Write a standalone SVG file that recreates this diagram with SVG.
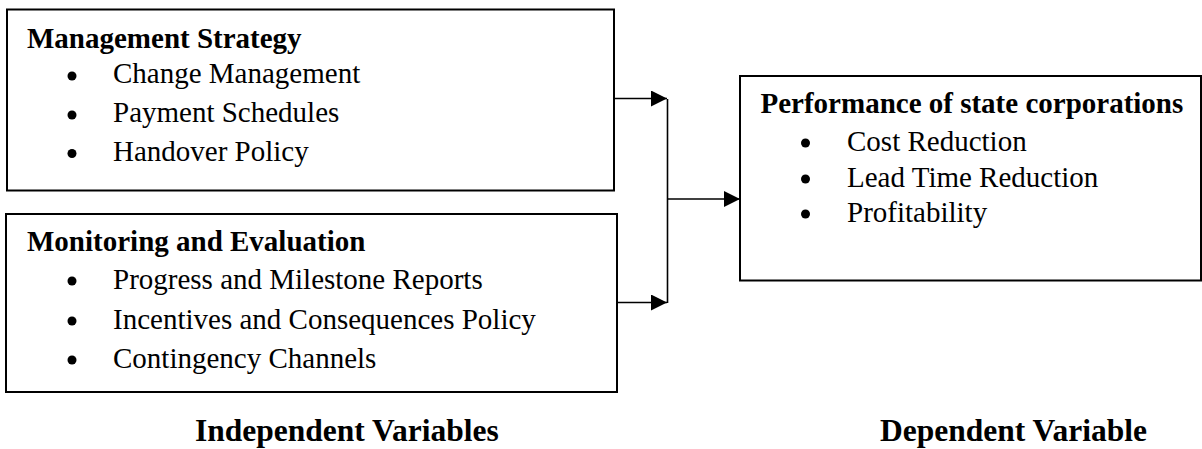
<svg xmlns="http://www.w3.org/2000/svg" width="1202" height="449" viewBox="0 0 1202 449">
<style>
.box{fill:#fff;stroke:#000;stroke-width:2}
.h{font-family:"Liberation Serif","Times New Roman",serif;font-weight:bold;font-size:29px;fill:#000}
.t{font-family:"Liberation Serif","Times New Roman",serif;font-size:29px;fill:#000}
.lab{font-family:"Liberation Serif","Times New Roman",serif;font-weight:bold;font-size:31.5px;fill:#000}
.ln{fill:none;stroke:#000;stroke-width:1.6}
.dot{fill:#000}
</style>
<defs>
<marker id="arr" markerWidth="16" markerHeight="16" refX="16" refY="8" orient="auto" markerUnits="userSpaceOnUse">
<path d="M0,0 L16,8 L0,16 Z" fill="#000"/>
</marker>
</defs>
<g id="management-strategy">
<rect class="box" x="7" y="9.5" width="607" height="181"/>
<text class="h" x="27" y="48">Management Strategy</text>
<circle class="dot" cx="72" cy="76" r="4.5"/>
<text class="t" x="113" y="83">Change Management</text>
<circle class="dot" cx="72" cy="115" r="4.5"/>
<text class="t" x="113" y="122">Payment Schedules</text>
<circle class="dot" cx="72" cy="153.5" r="4.5"/>
<text class="t" x="113" y="160.5">Handover Policy</text>
</g>
<g id="monitoring-evaluation">
<rect class="box" x="6" y="214" width="611" height="178"/>
<text class="h" x="27" y="251">Monitoring and Evaluation</text>
<circle class="dot" cx="72" cy="281" r="4.5"/>
<text class="t" x="113" y="288.5">Progress and Milestone Reports</text>
<circle class="dot" cx="72" cy="321" r="4.5"/>
<text class="t" x="113" y="328.5">Incentives and Consequences Policy</text>
<circle class="dot" cx="72" cy="360" r="4.5"/>
<text class="t" x="113" y="367.5">Contingency Channels</text>
</g>
<g id="performance">
<rect class="box" x="740" y="76" width="461" height="204.5"/>
<text class="h" x="760.5" y="113">Performance of state corporations</text>
<circle class="dot" cx="805.5" cy="143" r="4.5"/>
<text class="t" x="847" y="150.5">Cost Reduction</text>
<circle class="dot" cx="805.5" cy="179" r="4.5"/>
<text class="t" x="847" y="186.5">Lead Time Reduction</text>
<circle class="dot" cx="805.5" cy="214" r="4.5"/>
<text class="t" x="847" y="221.5">Profitability</text>
</g>
<g id="connectors">
<line class="ln" x1="614" y1="98.5" x2="667" y2="98.5" marker-end="url(#arr)"/>
<line class="ln" x1="617" y1="302.5" x2="667" y2="302.5" marker-end="url(#arr)"/>
<line class="ln" x1="667.5" y1="99" x2="667.5" y2="303"/>
<line class="ln" x1="667.5" y1="199" x2="740" y2="199" marker-end="url(#arr)"/>
</g>
<g id="labels">
<text class="lab" x="195" y="441">Independent Variables</text>
<text class="lab" x="880" y="441">Dependent Variable</text>
</g>
</svg>
